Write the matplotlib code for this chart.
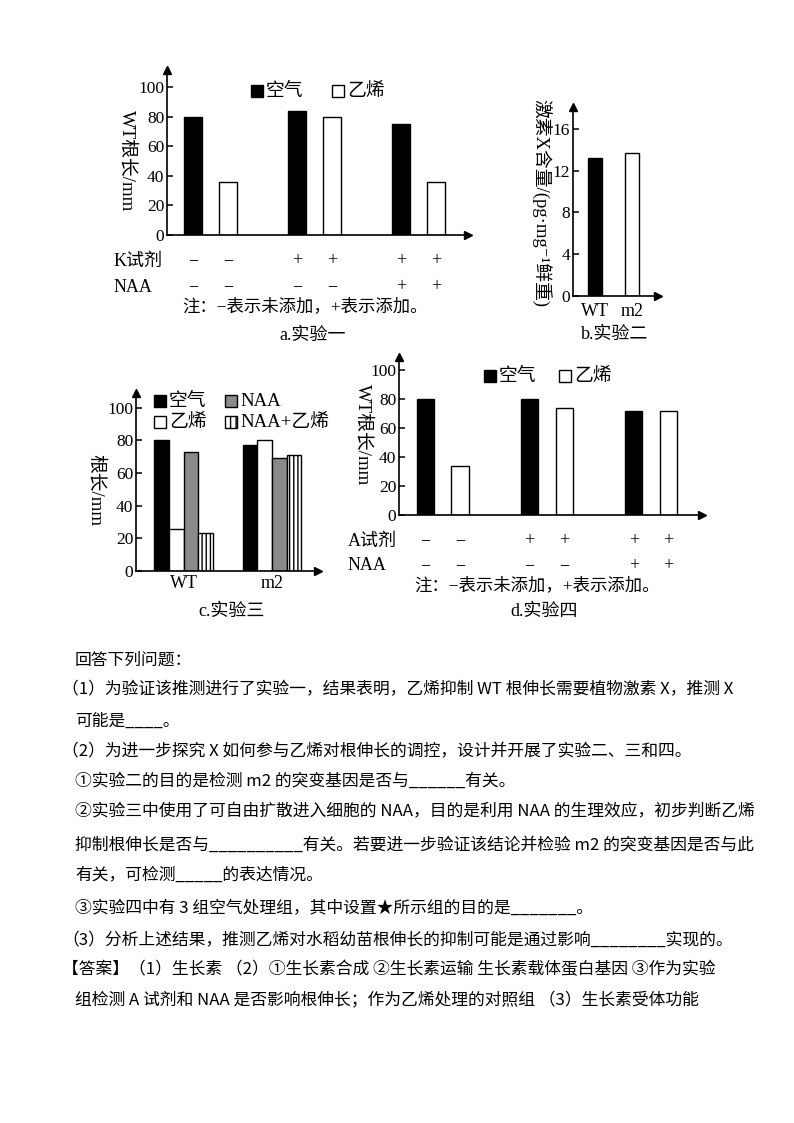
import matplotlib.pyplot as plt

W, H = 794, 1123
serif = ['Liberation Serif', 'Noto Sans CJK SC', 'DejaVu Sans']
body = ['Noto Sans CJK SC', 'DejaVu Sans']
plt.rcParams['font.family'] = serif

# experiment 1 (WT root length, mm)
exp1_air = [80, 84, 75]
exp1_eth = [35.5, 80, 35.5]
exp1_k = ['−', '−', '+', '+', '+', '+']
exp1_naa = ['−', '−', '−', '−', '+', '+']

# experiment 2 (hormone X content)
exp2_groups = ['WT', 'm2']
exp2_x = [13.2, 13.7]

# experiment 3 (root length, mm)
exp3_groups = ['WT', 'm2']
exp3_air = [80, 77]
exp3_eth = [26, 80]
exp3_naa = [73, 69]
exp3_naa_eth = [23.5, 71]

# experiment 4 (WT root length, mm)
exp4_air = [80, 80, 72]
exp4_eth = [34, 74, 72]
exp4_a = ['−', '−', '+', '+', '+', '+']
exp4_naa = ['−', '−', '−', '−', '+', '+']

fig = plt.figure(figsize=(W / 100, H / 100), dpi=100)
page = fig.add_axes([0, 0, 1, 1])
page.set_xlim(0, W)
page.set_ylim(H, 0)
page.axis('off')


def frame(x0, x1, ytop, ybase, xlim, ylim, yticks):
    ax = fig.add_axes([x0 / W, 1 - ybase / H, (x1 - x0) / W, (ybase - ytop) / H])
    ax.patch.set_alpha(0)
    ax.set_xlim(*xlim)
    ax.set_ylim(*ylim)
    for s in ['top', 'right']:
        ax.spines[s].set_visible(False)
    for s in ['left', 'bottom']:
        ax.spines[s].set_linewidth(1.2)
    ax.set_xticks([])
    ax.set_yticks(yticks)
    ax.tick_params(axis='y', direction='in', length=4, width=1.1,
                   labelsize=12.5, pad=2)
    ax.plot(1, 0, '>k', ms=6, transform=ax.transAxes, clip_on=False)
    ax.plot(0, 1, '^k', ms=6, transform=ax.transAxes, clip_on=False)
    return ax


def legend_box(x, y, label, fc='black', hatch=None):
    page.add_patch(plt.Rectangle((x, y - 6), 12, 12, fc=fc, ec='black',
                                 lw=1, hatch=hatch))
    page.text(x + 15, y, label, fontsize=13.5, va='center', ha='left')


# ---- a. experiment 1
ax = frame(167, 468, 70, 235, (-0.75, 7.93), (0, 111.5), range(0, 101, 20))
grp = [0, 3, 6]
ax.bar(grp, exp1_air, width=0.52, color='black', edgecolor='black', lw=1)
ax.bar([g + 1 for g in grp], exp1_eth, width=0.52, color='white',
       edgecolor='black', lw=1)
xs = [193, 227.7, 297, 331.8, 401.2, 436]
for x, k, n in zip(xs, exp1_k, exp1_naa):
    page.text(x, 261, k, fontsize=13, ha='center', va='center')
    page.text(x, 287, n, fontsize=13, ha='center', va='center')
page.text(114, 261, 'K试剂', fontsize=13, va='center')
page.text(114, 287, 'NAA', fontsize=13, va='center')
page.text(305, 307, '注：−表示未添加，+表示添加。', fontsize=12.5, ha='center', va='center')
page.text(313, 335, 'a.实验一', fontsize=13, ha='center', va='center')
page.text(127, 161, 'WT根长/mm', fontsize=13.5, rotation=270, ha='center', va='center')
legend_box(251, 91, '空气')
legend_box(332, 91, '乙烯', fc='white')

# ---- b. experiment 2
ax = frame(573, 658, 107, 296, (-0.595, 1.70), (0, 18.1), range(0, 17, 4))
ax.bar([0, 1], exp2_x, width=0.38, color=['black', 'white'],
       edgecolor='black', lw=1)
for i, g in enumerate(exp2_groups):
    page.text(595 + 37 * i, 311, g, fontsize=13, ha='center', va='center')
page.text(615, 334, 'b.实验二', fontsize=13, ha='center', va='center')
page.text(540, 203, '激素X含量/(pg·mg⁻¹鲜重)', fontsize=13.5, rotation=270,
          ha='center', va='center')

# ---- c. experiment 3
ax = frame(136, 318, 393, 571, (-0.537, 1.52), (0, 109), range(0, 101, 20))
w = 0.166
series = [(exp3_air, 'black', None), (exp3_eth, 'white', None),
          (exp3_naa, '#8a8a8a', None), (exp3_naa_eth, 'white', '||||')]
for j, (vals, fc, hatch) in enumerate(series):
    ax.bar([i + (j - 1.5) * w for i in range(len(vals))], vals, width=w,
           color=fc, edgecolor='black', lw=1, hatch=hatch)
for i, g in enumerate(exp3_groups):
    page.text(183.5 + 88.5 * i, 584, g, fontsize=13, ha='center', va='center')
page.text(232, 611, 'c.实验三', fontsize=13, ha='center', va='center')
page.text(96, 490, '根长/mm', fontsize=13.5, rotation=270, ha='center', va='center')
legend_box(154, 401, '空气')
legend_box(225, 401, 'NAA', fc='#8a8a8a')
legend_box(154, 422, '乙烯', fc='white')
legend_box(225, 422, 'NAA+乙烯', fc='white', hatch='|||')

# ---- d. experiment 4
ax = frame(399, 702, 357, 515, (-0.76, 7.97), (0, 109), range(0, 101, 20))
ax.bar(grp, exp4_air, width=0.5, color='black', edgecolor='black', lw=1)
ax.bar([g + 1 for g in grp], exp4_eth, width=0.5, color='white',
       edgecolor='black', lw=1)
xs = [425.5, 460.2, 529.6, 564.3, 633.7, 668.4]
for x, a, n in zip(xs, exp4_a, exp4_naa):
    page.text(x, 541, a, fontsize=13, ha='center', va='center')
    page.text(x, 566, n, fontsize=13, ha='center', va='center')
page.text(348, 541, 'A试剂', fontsize=13, va='center')
page.text(348, 566, 'NAA', fontsize=13, va='center')
page.text(537, 586, '注：−表示未添加，+表示添加。', fontsize=12.5, ha='center', va='center')
page.text(544, 611, 'd.实验四', fontsize=13, ha='center', va='center')
page.text(363, 435, 'WT根长/mm', fontsize=13.5, rotation=270, ha='center', va='center')
legend_box(484, 376, '空气')
legend_box(559, 376, '乙烯', fc='white')

# ---- question text
lines = [
    (75, 660, '回答下列问题：'),
    (62, 690, '（1）为验证该推测进行了实验一，结果表明，乙烯抑制 WT 根伸长需要植物激素 X，推测 X'),
    (75, 721, '可能是____。'),
    (62, 752, '（2）为进一步探究 X 如何参与乙烯对根伸长的调控，设计并开展了实验二、三和四。'),
    (75, 781, '①实验二的目的是检测 m2 的突变基因是否与______有关。'),
    (75, 812, '②实验三中使用了可自由扩散进入细胞的 NAA，目的是利用 NAA 的生理效应，初步判断乙烯'),
    (75, 845, '抑制根伸长是否与__________有关。若要进一步验证该结论并检验 m2 的突变基因是否与此'),
    (75, 875, '有关，可检测_____的表达情况。'),
    (75, 908, '③实验四中有 3 组空气处理组，其中设置★所示组的目的是_______。'),
    (62, 940, '（3）分析上述结果，推测乙烯对水稻幼苗根伸长的抑制可能是通过影响________实现的。'),
    (62, 970, '【答案】（1）生长素 （2）①生长素合成 ②生长素运输 生长素载体蛋白基因 ③作为实验'),
    (75, 1001, '组检测 A 试剂和 NAA 是否影响根伸长；作为乙烯处理的对照组 （3）生长素受体功能'),
]
for x, y, s in lines:
    page.text(x, y, s, fontsize=12.1, family=body, va='center', ha='left')

fig.savefig('out.png', dpi=100)
